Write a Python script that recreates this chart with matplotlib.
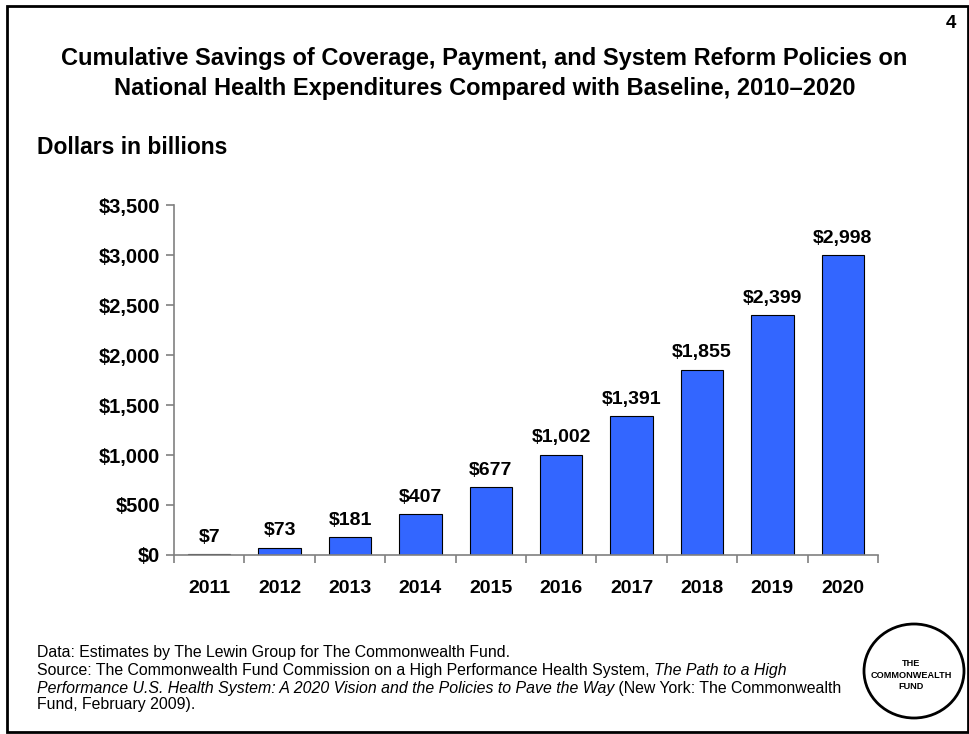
import matplotlib
matplotlib.use("Agg")
import matplotlib.pyplot as plt
from matplotlib.patches import Rectangle, Ellipse

plt.rcParams['font.family'] = ['Liberation Sans', 'DejaVu Sans']

years = ["2011", "2012", "2013", "2014", "2015", "2016", "2017", "2018", "2019", "2020"]
savings = [7, 73, 181, 407, 677, 1002, 1391, 1855, 2399, 2998]
yticks = [0, 500, 1000, 1500, 2000, 2500, 3000, 3500]

W, H = 969, 734
fig = plt.figure(figsize=(W / 100, H / 100), dpi=100)

# slide frame
fig.add_artist(Rectangle((7 / W, 2 / H), 961 / W, 726 / H, transform=fig.transFigure,
                         fill=False, edgecolor="black", lw=2))

fig.text(956 / W, 1 - 23 / H, "4", ha="right", va="center", fontsize=13.5, fontweight="bold")
fig.text(0.5, 1 - 58 / H, "Cumulative Savings of Coverage, Payment, and System Reform Policies on",
         ha="center", va="center", fontsize=17, fontweight="bold")
fig.text(0.5, 1 - 88 / H, "National Health Expenditures Compared with Baseline, 2010\u20132020",
         ha="center", va="center", fontsize=17, fontweight="bold")
fig.text(37 / W, 1 - 147 / H, "Dollars in billions", ha="left", va="center",
         fontsize=16.5, fontweight="bold")

ax = fig.add_axes([174 / W, 1 - 555 / H, 704 / W, 350 / H])
x = list(range(len(years)))
bars = ax.bar(x, savings, width=0.6, color="#3366FF", edgecolor="black", linewidth=0.8)
for b, v in zip(bars, savings):
    ax.annotate(f"${v:,}", (b.get_x() + b.get_width() / 2, v), xytext=(0, 6),
                textcoords="offset points", ha="center", va="bottom",
                fontsize=14, fontweight="bold")

ax.set_xlim(-0.5, len(years) - 0.5)
ax.set_ylim(0, 3500)
ax.set_yticks(yticks)
ax.set_yticklabels([f"${t:,}" for t in yticks], fontsize=14.5, fontweight="bold")
ax.set_xticks(x)
ax.set_xticklabels(years, fontsize=14, fontweight="bold")
ax.set_xticks([i - 0.5 for i in range(len(years) + 1)], minor=True)
ax.tick_params(axis="x", which="major", length=0, pad=18)
ax.tick_params(axis="x", which="minor", length=6, color="#808080", width=1.2)
ax.tick_params(axis="y", length=6, color="#808080", width=1.2, pad=4)
for s in ["top", "right"]:
    ax.spines[s].set_visible(False)
for s in ["left", "bottom"]:
    ax.spines[s].set_color("#808080")
    ax.spines[s].set_linewidth(1.2)

# footnotes with mixed italics
fig.canvas.draw()
renderer = fig.canvas.get_renderer()


def line(y, parts):
    xpos = 37 / W
    for txt, style in parts:
        t = fig.text(xpos, 1 - y / H, txt, ha="left", va="center", fontsize=11.4, style=style)
        bb = t.get_window_extent(renderer)
        xpos = bb.x1 / W


line(652, [("Data: Estimates by The Lewin Group for The Commonwealth Fund.", "normal")])
line(670, [("Source: The Commonwealth Fund Commission on a High Performance Health System, ", "normal"),
           ("The Path to a High", "italic")])
line(688, [("Performance U.S. Health System: A 2020 Vision and the Policies to Pave the Way", "italic"),
           (" (New York: The Commonwealth", "normal")])
line(705, [("Fund, February 2009).", "normal")])

# logo
fig.add_artist(Ellipse((914 / W, 1 - 671 / H), 100 / W, 94 / H, transform=fig.transFigure,
                       fill=False, edgecolor="black", lw=2))
fig.text(911 / W, 1 - 675 / H, "THE\nCOMMONWEALTH\nFUND", ha="center", va="center",
         fontsize=6.6, fontweight="bold", linespacing=1.3)

fig.savefig("out.png", dpi=100)
